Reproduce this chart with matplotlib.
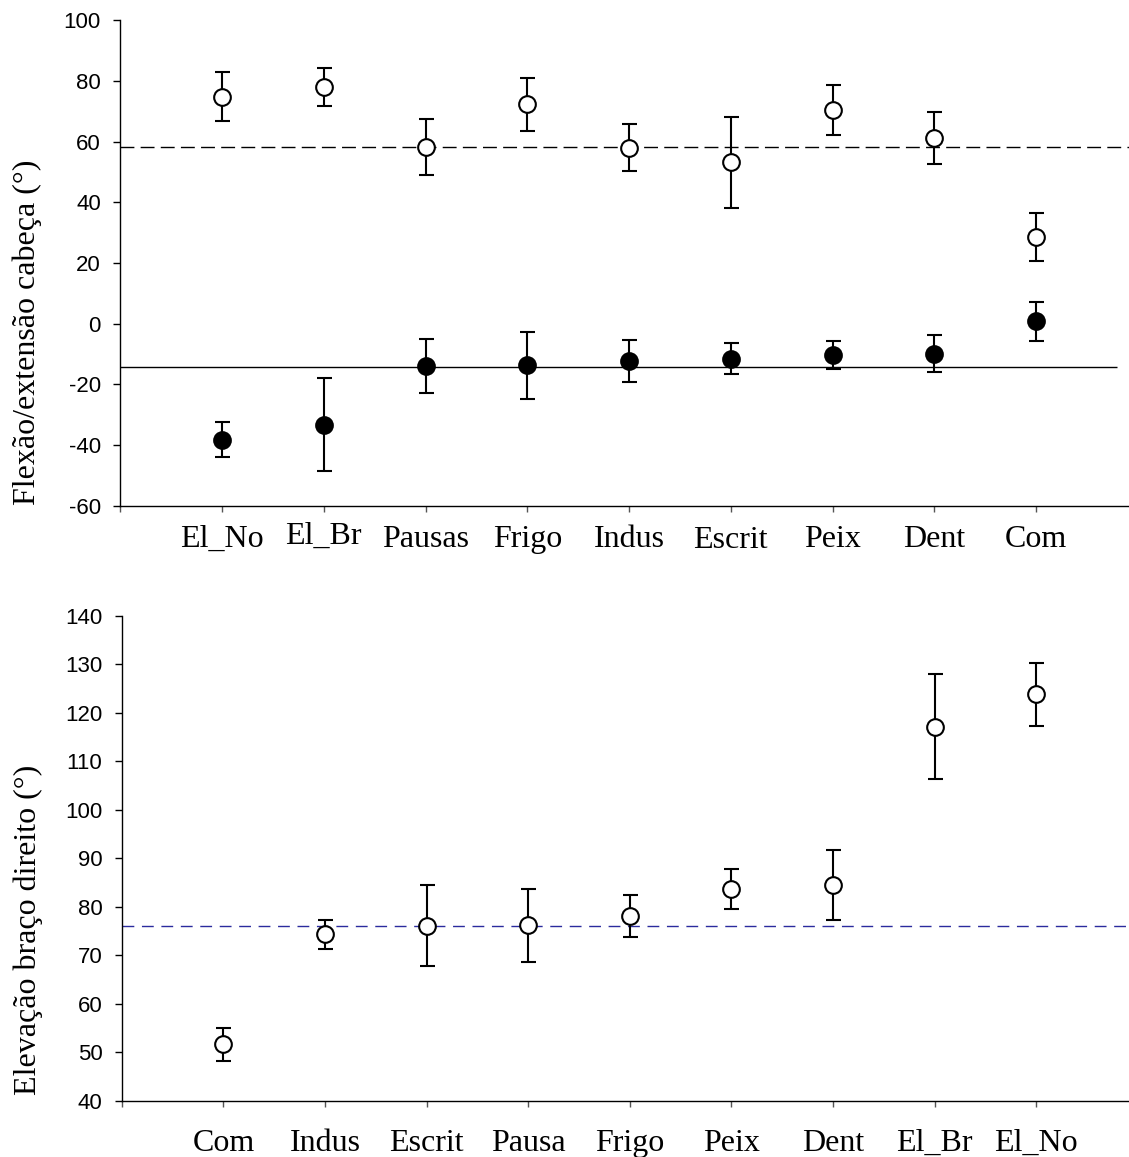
import matplotlib
matplotlib.use("Agg")
import matplotlib.pyplot as plt

# ---- Head flexion/extension (top panel) ----
head_cats = ["El_No", "El_Br", "Pausas", "Frigo", "Indus", "Escrit", "Peix", "Dent", "Com"]
head_ext_mean = [74.9, 78.1, 58.3, 72.4, 58.0, 53.2, 70.5, 61.3, 28.6]
head_ext_err = [8.0, 6.2, 9.2, 8.7, 7.7, 15.0, 8.2, 8.6, 8.0]
head_flex_mean = [-38.2, -33.3, -14.0, -13.7, -12.4, -11.5, -10.2, -9.9, 0.8]
head_flex_err = [5.8, 15.4, 8.9, 11.1, 6.9, 5.2, 4.6, 6.1, 6.4]
head_ext_ref = 58.3
head_flex_ref = -14.2
head_yticks = [-60, -40, -20, 0, 20, 40, 60, 80, 100]

# ---- Right arm elevation (bottom panel) ----
arm_cats = ["Com", "Indus", "Escrit", "Pausa", "Frigo", "Peix", "Dent", "El_Br", "El_No"]
arm_mean = [51.6, 74.3, 76.1, 76.2, 78.1, 83.7, 84.5, 117.2, 123.9]
arm_err = [3.4, 2.9, 8.4, 7.5, 4.4, 4.2, 7.3, 10.9, 6.5]
arm_ref = 76.0
arm_yticks = [40, 50, 60, 70, 80, 90, 100, 110, 120, 130, 140]

SERIF = "Liberation Serif"
SANS = "Liberation Sans"
LABEL_SIZE = 23

W, H = 1129, 1157
fig = plt.figure(figsize=(W / 100, H / 100), dpi=100)

ax1 = fig.add_axes([120.25 / W, 1 - 505.7 / H, (W - 120.25) / W, 485.3 / H])
ax2 = fig.add_axes([121.9 / W, 1 - 1100.7 / H, (W - 121.9) / W, 484.7 / H])

XMAX = 9.914

err_kw = dict(fmt="o", ms=12, mew=1.5, mec="black", ecolor="black",
              elinewidth=1.5, capsize=5.4, capthick=1.5, zorder=3)


def style_axes(ax, yticks, ylim):
    for s in ("top", "right"):
        ax.spines[s].set_visible(False)
    for s in ("left", "bottom"):
        ax.spines[s].set_linewidth(1.0)
    ax.set_xlim(0, XMAX)
    ax.set_ylim(*ylim)
    ax.set_yticks(yticks)
    ax.set_yticklabels([str(t) for t in yticks], fontfamily=SANS, fontsize=16)
    ax.tick_params(axis="y", direction="out", length=5, width=1.0, pad=9.0)
    ax.set_xticks(range(10))
    ax.set_xticklabels([])
    ax.tick_params(axis="x", direction="out", length=4.5, width=1.0, color="#555555")


def draw_labels(ax, cats, offsets_pt):
    for i, (c, off) in enumerate(zip(cats, offsets_pt), start=1):
        ax.annotate(c, xy=(i, 0), xycoords=ax.get_xaxis_transform(),
                    xytext=(0, -off), textcoords="offset points",
                    ha="center", va="baseline", fontfamily=SERIF, fontsize=LABEL_SIZE)


xs = list(range(1, 10))

# Top panel
ax1.hlines(head_ext_ref, 0, XMAX, colors="black", linewidth=1.0,
           linestyles=(0, (10, 4.5)), zorder=1)
ax1.hlines(head_flex_ref, 0, 9.80, colors="black", linewidth=1.0, zorder=1)
ax1.errorbar(xs, head_ext_mean, yerr=head_ext_err, mfc="white", **err_kw)
ax1.errorbar(xs, head_flex_mean, yerr=head_flex_err, mfc="black", **err_kw)
style_axes(ax1, head_yticks, (-60, 100))
draw_labels(ax1, head_cats, [29.4, 27.1, 29.4, 29.4, 29.4, 30.7, 29.4, 29.4, 29.4])
ax1.set_ylabel("Flexão/extensão cabeça (°)", fontfamily=SERIF, fontsize=LABEL_SIZE)
ax1.yaxis.set_label_coords(-0.078, 0.358)

# Bottom panel
ax2.hlines(arm_ref, 0, XMAX, colors="#2b2b9e", linewidth=1.0,
           linestyles=(0, (8.5, 5.5)), zorder=1)
ax2.errorbar(xs, arm_mean, yerr=arm_err, mfc="white", **err_kw)
style_axes(ax2, arm_yticks, (40, 140))
draw_labels(ax2, arm_cats, [36.4] * 9)
ax2.set_ylabel("Elevação braço direito (°)", fontfamily=SERIF, fontsize=LABEL_SIZE)
ax2.yaxis.set_label_coords(-0.078, 0.352)

fig.savefig("out.png", dpi=100)
